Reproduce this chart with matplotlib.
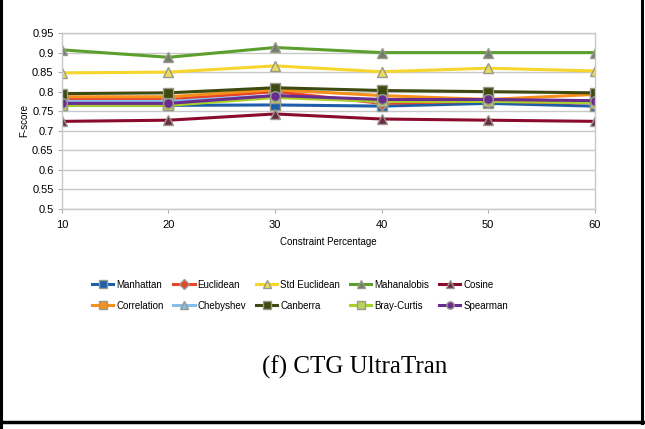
import matplotlib.pyplot as plt
from matplotlib.lines import Line2D

plt.rcParams['font.family'] = ['Liberation Sans', 'DejaVu Sans']

# F-score per distance measure at each constraint percentage
pct = [10, 20, 30, 40, 50, 60]
manhattan = [0.765, 0.765, 0.766, 0.763, 0.770, 0.763]
euclidean = [0.780, 0.780, 0.800, 0.770, 0.776, 0.770]
std_euclidean = [0.848, 0.850, 0.866, 0.851, 0.860, 0.853]
mahalanobis = [0.907, 0.888, 0.913, 0.900, 0.900, 0.900]
cosine = [0.724, 0.727, 0.743, 0.730, 0.727, 0.724]
correlation = [0.787, 0.787, 0.805, 0.790, 0.780, 0.793]
chebyshev = [0.775, 0.775, 0.790, 0.775, 0.780, 0.770]
canberra = [0.795, 0.797, 0.810, 0.803, 0.800, 0.797]
bray_curtis = [0.765, 0.765, 0.785, 0.775, 0.775, 0.772]
spearman = [0.770, 0.770, 0.790, 0.780, 0.780, 0.777]

series = [
    ('Manhattan', manhattan, '#1f5ea8', 's', '#1f5ea8'),
    ('Euclidean', euclidean, '#e8432b', 'D', '#e8432b'),
    ('Std Euclidean', std_euclidean, '#f6d52c', '^', '#e9dc5a'),
    ('Mahanalobis', mahalanobis, '#5c9f2e', '^', '#6e7f6a'),
    ('Cosine', cosine, '#8a0b2c', '^', '#6a2a48'),
    ('Correlation', correlation, '#f5901a', 's', '#f5901a'),
    ('Chebyshev', chebyshev, '#86bde9', '^', '#86bde9'),
    ('Canberra', canberra, '#3d4a10', 's', '#3d4a10'),
    ('Bray-Curtis', bray_curtis, '#a9d12a', 's', '#b9d060'),
    ('Spearman', spearman, '#6a2c8e', 'o', '#6a2c8e'),
]

fig = plt.figure(figsize=(6.45, 4.29), dpi=100)
ax = fig.add_axes([0.096, 0.513, 0.826, 0.410])

handles = []
for name, vals, color, marker, face in series:
    h, = ax.plot(pct, vals, color=color, lw=2.2, marker=marker, markersize=7,
                 markerfacecolor=face, markeredgecolor='#9a9a8a', markeredgewidth=1.0,
                 label=name)
    handles.append(h)

ax.set_xlim(10, 60)
ax.set_ylim(0.5, 0.95)
ax.set_xticks(pct)
ax.set_yticks([0.5, 0.55, 0.6, 0.65, 0.7, 0.75, 0.8, 0.85, 0.9, 0.95])
ax.set_yticklabels(['0.5', '0.55', '0.6', '0.65', '0.7', '0.75', '0.8', '0.85', '0.9', '0.95'])
ax.tick_params(labelsize=8, length=3, color='#b0b0b0', pad=3)
ax.tick_params(axis='x', pad=5)
ax.grid(axis='y', color='#c8c8c8', lw=1.0)
ax.set_axisbelow(True)
for s in ax.spines.values():
    s.set_color('#c8c8c8')
    s.set_linewidth(1.0)
ax.set_xlabel('Constraint Percentage', fontsize=7, labelpad=5)
ax.set_ylabel('F-score', fontsize=7, labelpad=2)

# legend fills by column, so interleave the two rows
order = [0, 5, 1, 6, 2, 7, 3, 8, 4, 9]
fig.legend([handles[i] for i in order], [series[i][0] for i in order],
           loc='center', bbox_to_anchor=(0.465, 0.312), ncol=5, frameon=False,
           fontsize=7, handlelength=2.2, handletextpad=0.3, columnspacing=1.0,
           labelspacing=1.15, markerscale=0.75)

fig.text(0.55, 0.143, '(f) CTG UltraTran', fontsize=18,
         family=['Liberation Serif', 'DejaVu Serif'], ha='center', va='center')

# frame lines around the panel
fig.add_artist(Line2D([0.002, 0.002], [0, 1], color='black', lw=2.2))
fig.add_artist(Line2D([0.995, 0.995], [0.015, 1], color='black', lw=2.2))
fig.add_artist(Line2D([0, 0.997], [0.016, 0.016], color='black', lw=2.5))

fig.savefig('out.png', dpi=100)
